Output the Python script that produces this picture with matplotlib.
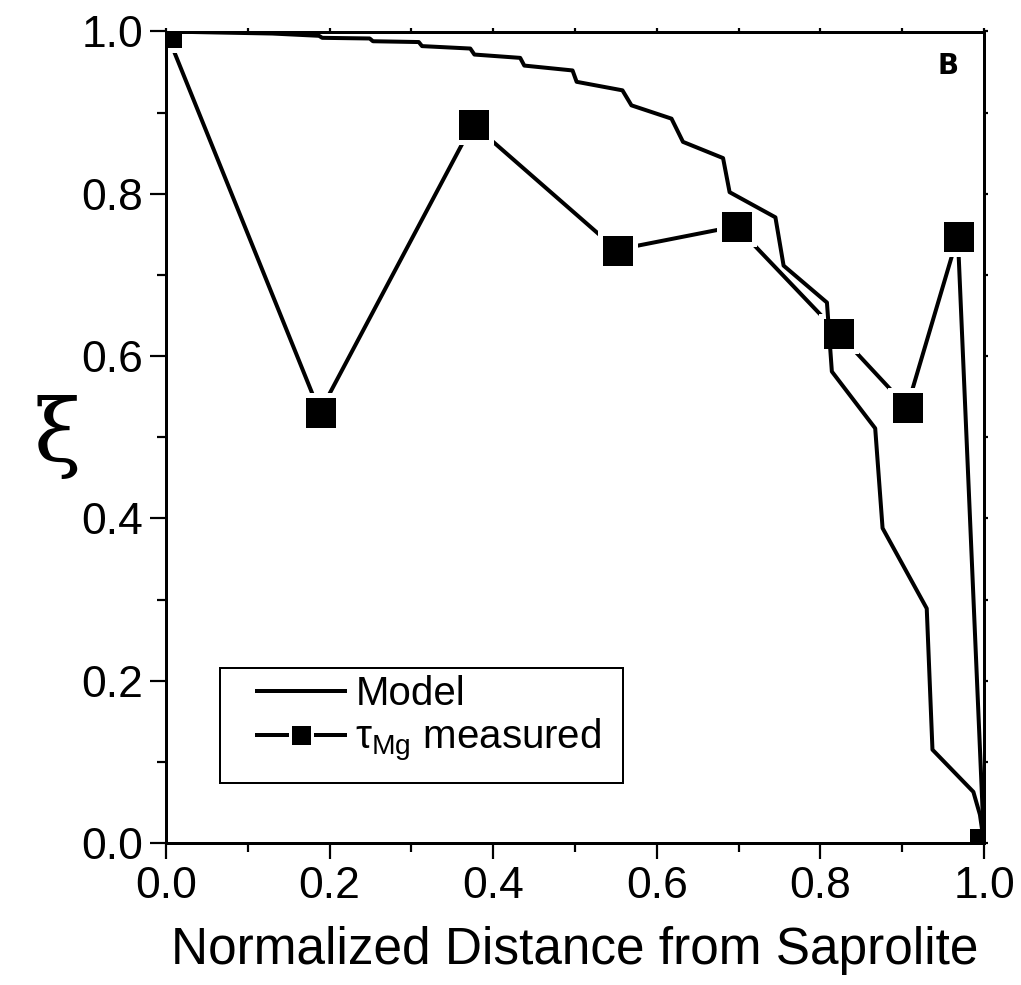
import matplotlib
matplotlib.use("Agg")
import matplotlib.pyplot as plt
from matplotlib.lines import Line2D
from matplotlib.patches import Rectangle
from matplotlib.ticker import MultipleLocator

plt.rcParams['font.family'] = ['Liberation Sans', 'DejaVu Sans']
plt.rcParams['mathtext.fontset'] = 'custom'
plt.rcParams['mathtext.rm'] = 'Liberation Sans'
plt.rcParams['mathtext.it'] = 'Liberation Sans:italic'

# 模型曲线 (归一化距离, ξ)
model_x = [0.0, 0.130, 0.187, 0.191, 0.249, 0.253, 0.309, 0.313, 0.372, 0.377,
           0.433, 0.438, 0.497, 0.502, 0.558, 0.569, 0.618, 0.632, 0.681, 0.689,
           0.745, 0.755, 0.808, 0.814, 0.867, 0.876, 0.930, 0.937, 0.987, 0.995, 1.0]
model_y = [1.0, 0.9975, 0.9947, 0.9922, 0.9914, 0.988, 0.987, 0.982, 0.979, 0.9716,
           0.9675, 0.958, 0.952, 0.938, 0.9275, 0.909, 0.8926, 0.864, 0.844, 0.802,
           0.771, 0.7115, 0.666, 0.581, 0.511, 0.388, 0.289, 0.115, 0.063, 0.035, 0.0]

# 实测 tau_Mg
meas_x = [0.0, 0.188, 0.375, 0.551, 0.697, 0.822, 0.906, 0.968, 1.0]
meas_y = [1.0, 0.531, 0.886, 0.731, 0.760, 0.628, 0.537, 0.748, 0.0]

px = 72.0 / 100  # 像素 -> 磅
LW = 4 * px

fig = plt.figure(figsize=(10.21, 9.85), dpi=100)
ax = fig.add_axes([166 / 1021, 1 - 843 / 985, 818 / 1021, 811.5 / 985])

# 白色描边让连线在方块前断开
ax.plot(meas_x, meas_y, color='black', lw=LW, marker='s',
        ms=35 * px, mfc='black', mec='white', mew=5 * px, zorder=2)
ax.plot(model_x, model_y, color='black', lw=LW, zorder=3,
        solid_joinstyle='round')

ax.set_xlim(0, 1)
ax.set_ylim(0, 1)

for side in ['left', 'right', 'top', 'bottom']:
    ax.spines[side].set_linewidth(3 * px)

ax.xaxis.set_major_locator(MultipleLocator(0.2))
ax.xaxis.set_minor_locator(MultipleLocator(0.1))
ax.yaxis.set_major_locator(MultipleLocator(0.2))
ax.yaxis.set_minor_locator(MultipleLocator(0.1))
ax.xaxis.set_major_formatter(plt.FormatStrFormatter('%.1f'))
ax.yaxis.set_major_formatter(plt.FormatStrFormatter('%.1f'))

ax.tick_params(which='both', direction='out', top=True, right=True,
               width=2.2 * px, labelsize=32)
ax.tick_params(which='major', length=16 * px, pad=5)
ax.tick_params(which='minor', length=9 * px)
# 上、右边框只画很短的刻度
for t in ax.xaxis.get_major_ticks() + ax.xaxis.get_minor_ticks():
    t.tick2line.set_markersize(4 * px)
for t in ax.yaxis.get_major_ticks() + ax.yaxis.get_minor_ticks():
    t.tick2line.set_markersize(4 * px)

ax.set_xlabel('Normalized Distance from Saprolite', fontsize=37, va='center')
ax.xaxis.set_label_coords(0.5, -0.132)
ax.set_ylabel('ξ', fontsize=62, rotation=0, va='center', ha='center',
              family=['DejaVu Serif'])
ax.yaxis.set_label_coords(-0.133, 0.5)

ax.text(0.956, 0.957, 'B', transform=ax.transAxes, fontsize=20,
        fontweight='bold', family=['DejaVu Sans'], ha='center', va='center')

# 图例：外框单独画，图例本身不带边框
ax.add_patch(Rectangle((0.066, 0.074), 0.4927, 0.142, transform=ax.transAxes,
                       fill=False, edgecolor='black', lw=2 * px, zorder=4))
handles = [
    Line2D([], [], color='black', lw=LW),
    Line2D([], [], color='black', lw=LW, marker='s', ms=23 * px,
           mfc='black', mec='white', mew=3 * px),
]
labels = ['Model', r'$\mathrm{τ}_{\mathrm{Mg}}$ measured']
leg = ax.legend(handles, labels, loc='upper left',
                bbox_to_anchor=(0.111, 0.207), borderaxespad=0, borderpad=0,
                fontsize=29, frameon=False,
                handlelength=2.2, handletextpad=0.25, labelspacing=0.1)

fig.savefig('out.png', dpi=100)
